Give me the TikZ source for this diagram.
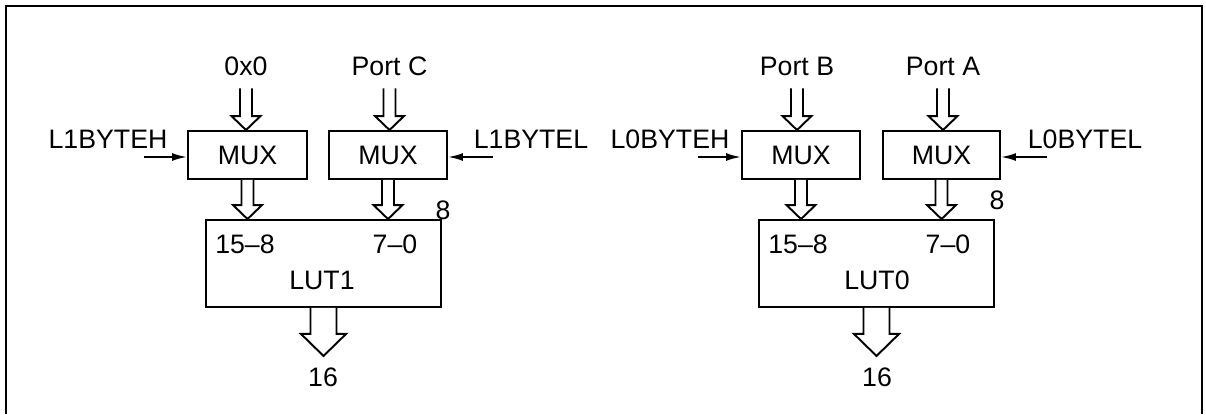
\documentclass[tikz,border=0pt]{standalone}
\usepackage{fontspec}
\setmainfont{Liberation Sans}
\usetikzlibrary{calc,arrows.meta}
\tikzset{
  every node/.style={font=\fontsize{15.2}{18}\selectfont, text height=10.9pt, text depth=0pt},
  box/.style={draw, line width=1.1pt, inner sep=0pt, minimum height=0.96cm},
  busline/.style={draw, line width=1.1pt, fill=white},
  sig/.style={line width=1.1pt, -{Latex[length=8.5pt,width=4.5pt]}},
  port/.style={inner ysep=7.05pt}
}
% hollow bus arrow: start, tip, half shaft, half head, head length
\newcommand{\bus}[5]{%
  \draw[busline] ($(#1)+(-#3,0)$) -- ($(#2)+(-#3,#5)$) -- ($(#2)+(-#4,#5)$) -- (#2)
    -- ($(#2)+(#4,#5)$) -- ($(#2)+(#3,#5)$) -- ($(#1)+(#3,0)$);}
\begin{document}
\begin{tikzpicture}[x=0.02cm,y=0.02cm]
\useasboundingbox (0,0) rectangle (1206,414);
\draw[line width=1.1pt] (6,0) -- (6,408) -- (1202,408) -- (1202,0);

% LUT1
\node[box, minimum width=2.38cm] (mux1h) at (247.5,259) {MUX};
\node[box, minimum width=2.36cm] (mux1l) at (388,259) {MUX};
\node[box, minimum width=4.7cm, minimum height=1.74cm] (lut1) at (323.5,150.5) {};
\node[port] (in1h) at (246,348) {0x0};
\node[port] (in1l) at (389.5,348) {Port C};
\node (n1h) at (108,275) {L1BYTEH};
\node (n1l) at (531,275) {L1BYTEL};
\coordinate (e1h) at (144,257);
\coordinate (e1l) at (493,257);
\node (r1h) at (245,170) {15–8};
\node (r1l) at (395,170) {7–0};
\node (t1) at (322,134) {LUT1};
\node (w1a) at (443,204) {8};
\node (w1) at (323,37) {16};
\draw[sig] (e1h) -- (e1h -| mux1h.west);
\draw[sig] (e1l) -- (e1l -| mux1l.east);
\coordinate (a1h) at (in1h.south |- mux1h.north);
\coordinate (a1l) at (in1l.south |- mux1l.north);
\coordinate (b1h) at (mux1h.south |- lut1.north);
\coordinate (b1l) at (mux1l.south |- lut1.north);
\coordinate (o1) at ($(lut1.south)+(0,-48)$);
\bus{in1h.south}{a1h}{6}{14.5}{14}
\bus{in1l.south}{a1l}{6}{14.5}{14}
\bus{mux1h.south}{b1h}{6}{14.5}{14}
\bus{mux1l.south}{b1l}{6}{14.5}{14}
\bus{lut1.south}{o1}{13}{22.5}{22}

% LUT0
\node[box, minimum width=2.36cm] (mux0h) at (801,259) {MUX};
\node[box, minimum width=2.34cm] (mux0l) at (941.5,259) {MUX};
\node[box, minimum width=4.7cm, minimum height=1.74cm] (lut0) at (876.5,150.5) {};
\node[port] (in0h) at (797,348) {Port B};
\node[port] (in0l) at (943,348) {Port A};
\node (n0h) at (670,275) {L0BYTEH};
\node (n0l) at (1085,275) {L0BYTEL};
\coordinate (e0h) at (698,257);
\coordinate (e0l) at (1047,257);
\node (r0h) at (798,170) {15–8};
\node (r0l) at (948,170) {7–0};
\node (t0) at (877,134) {LUT0};
\node (w0a) at (997,214) {8};
\node (w0) at (877,37) {16};
\draw[sig] (e0h) -- (e0h -| mux0h.west);
\draw[sig] (e0l) -- (e0l -| mux0l.east);
\coordinate (a0h) at (in0h.south |- mux0h.north);
\coordinate (a0l) at (in0l.south |- mux0l.north);
\coordinate (b0h) at (mux0h.south |- lut0.north);
\coordinate (b0l) at (mux0l.south |- lut0.north);
\coordinate (o0) at ($(lut0.south)+(0,-48)$);
\bus{in0h.south}{a0h}{6}{14.5}{14}
\bus{in0l.south}{a0l}{6}{14.5}{14}
\bus{mux0h.south}{b0h}{6}{14.5}{14}
\bus{mux0l.south}{b0l}{6}{14.5}{14}
\bus{lut0.south}{o0}{13}{22.5}{22}
\end{tikzpicture}
\end{document}
